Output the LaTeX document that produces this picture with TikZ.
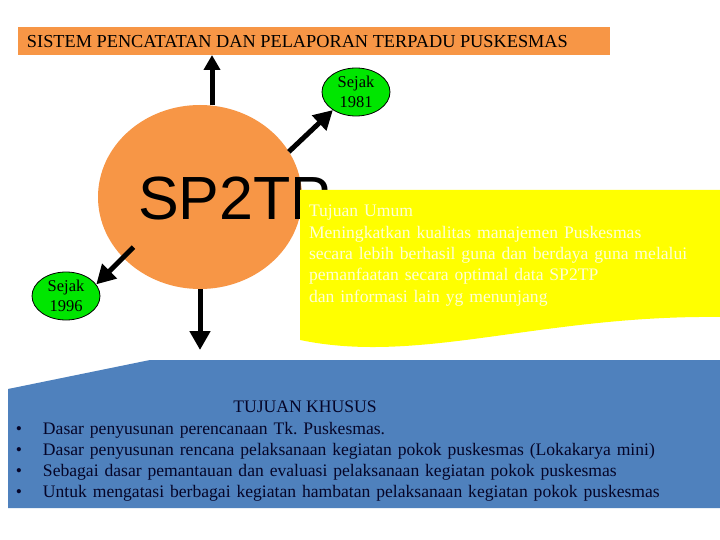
\documentclass[tikz,border=0pt]{standalone}
\usepackage{fontspec}
\setmainfont{Liberation Serif}
\newfontfamily\arialf{Liberation Sans}
\usetikzlibrary{arrows.meta,calc,shapes.geometric}
\definecolor{orng}{RGB}{247,150,70}
\definecolor{grn}{RGB}{0,230,0}
\definecolor{ylw}{RGB}{255,255,0}
\definecolor{blu}{RGB}{79,129,189}
\definecolor{cream}{RGB}{255,255,215}
\definecolor{navy}{RGB}{5,5,40}
\frenchspacing
\begin{document}
\begin{tikzpicture}[x=1pt,y=-1pt,
  arr/.style={line width=5pt, -{Triangle[width=20pt,length=19pt]}},
  sejak/.style={ellipse, draw=black, line width=0.8pt, fill=grn, minimum width=68pt, minimum height=48pt, inner sep=0pt, align=center, font=\fontsize{16.5}{20}\selectfont},
  plain/.style={inner sep=0pt, outer sep=0pt}
]
\useasboundingbox (0,0) rectangle (720,540);
\fill[white] (0,0) rectangle (720,540);
% top bar
\node[plain, fill=orng, minimum width=592pt, minimum height=28pt, anchor=north west] (top) at (18,27) {};
\node[plain, anchor=base west, font=\fontsize{18.3}{20}\selectfont] (toptext) at (27,48) {SISTEM PENCATATAN DAN PELAPORAN TERPADU PUSKESMAS};
% blue box
\fill[blu] (8,389) -- (150,360) -- (720,360) -- (720,508) -- (8,508) -- cycle;
\node[plain, anchor=base, font=\fontsize{17.6}{21}\selectfont, text=navy] (khusus) at (305,412) {TUJUAN KHUSUS};
\node[plain, anchor=base west, text width=700pt, align=left, font=\fontsize{17.6}{21.3}\selectfont, text=navy] (list) at (16,434) {%
\makebox[27pt][l]{•}Dasar penyusunan perencanaan Tk. Puskesmas.\\
\makebox[27pt][l]{•}Dasar penyusunan rencana pelaksanaan kegiatan pokok puskesmas (Lokakarya mini)\\
\makebox[27pt][l]{•}Sebagai dasar pemantauan dan evaluasi pelaksanaan kegiatan pokok puskesmas\\
\makebox[27pt][l]{•}Untuk mengatasi berbagai kegiatan hambatan pelaksanaan kegiatan pokok puskesmas};
% circle
\node[plain, ellipse, fill=orng, minimum width=204pt, minimum height=184pt] (sp) at (200,197) {};
\node[plain, anchor=base west, font=\arialf\fontsize{61}{61}\selectfont] (sptxt) at (138,219) {SP2TP};
% yellow wave box
\fill[ylw] (300,190) -- (720,190) -- (720,317) .. controls (540,315) and (420,365) .. (300,340) -- cycle;
\node[plain, anchor=base west, text width=410pt, align=left, font=\fontsize{17.6}{21.3}\selectfont, text=cream] (umum) at (309,217) {%
Tujuan Umum\\
Meningkatkan kualitas manajemen Puskesmas\\
secara lebih berhasil guna dan berdaya guna melalui\\
pemanfaatan secara optimal data SP2TP\\
dan informasi lain yg menunjang};
% green ellipses
\node[sejak] (s81) at (356,92) {Sejak\\1981};
\node[sejak] (s96) at (66,296) {Sejak\\1996};
% arrows
\coordinate (dn) at (200,350);
\draw[arr, -{Triangle[width=16pt,length=15pt]}] ([xshift=12pt]sp.north) -- ([xshift=12pt]sp.north |- top.south);
\draw[arr] (sp.south) -- (dn);
\draw[arr] (sp.27) -- (s81.218);
\draw[arr] ($(sp.center)!0.85!(sp.217)$) -- (s96.21);
\end{tikzpicture}
\end{document}
